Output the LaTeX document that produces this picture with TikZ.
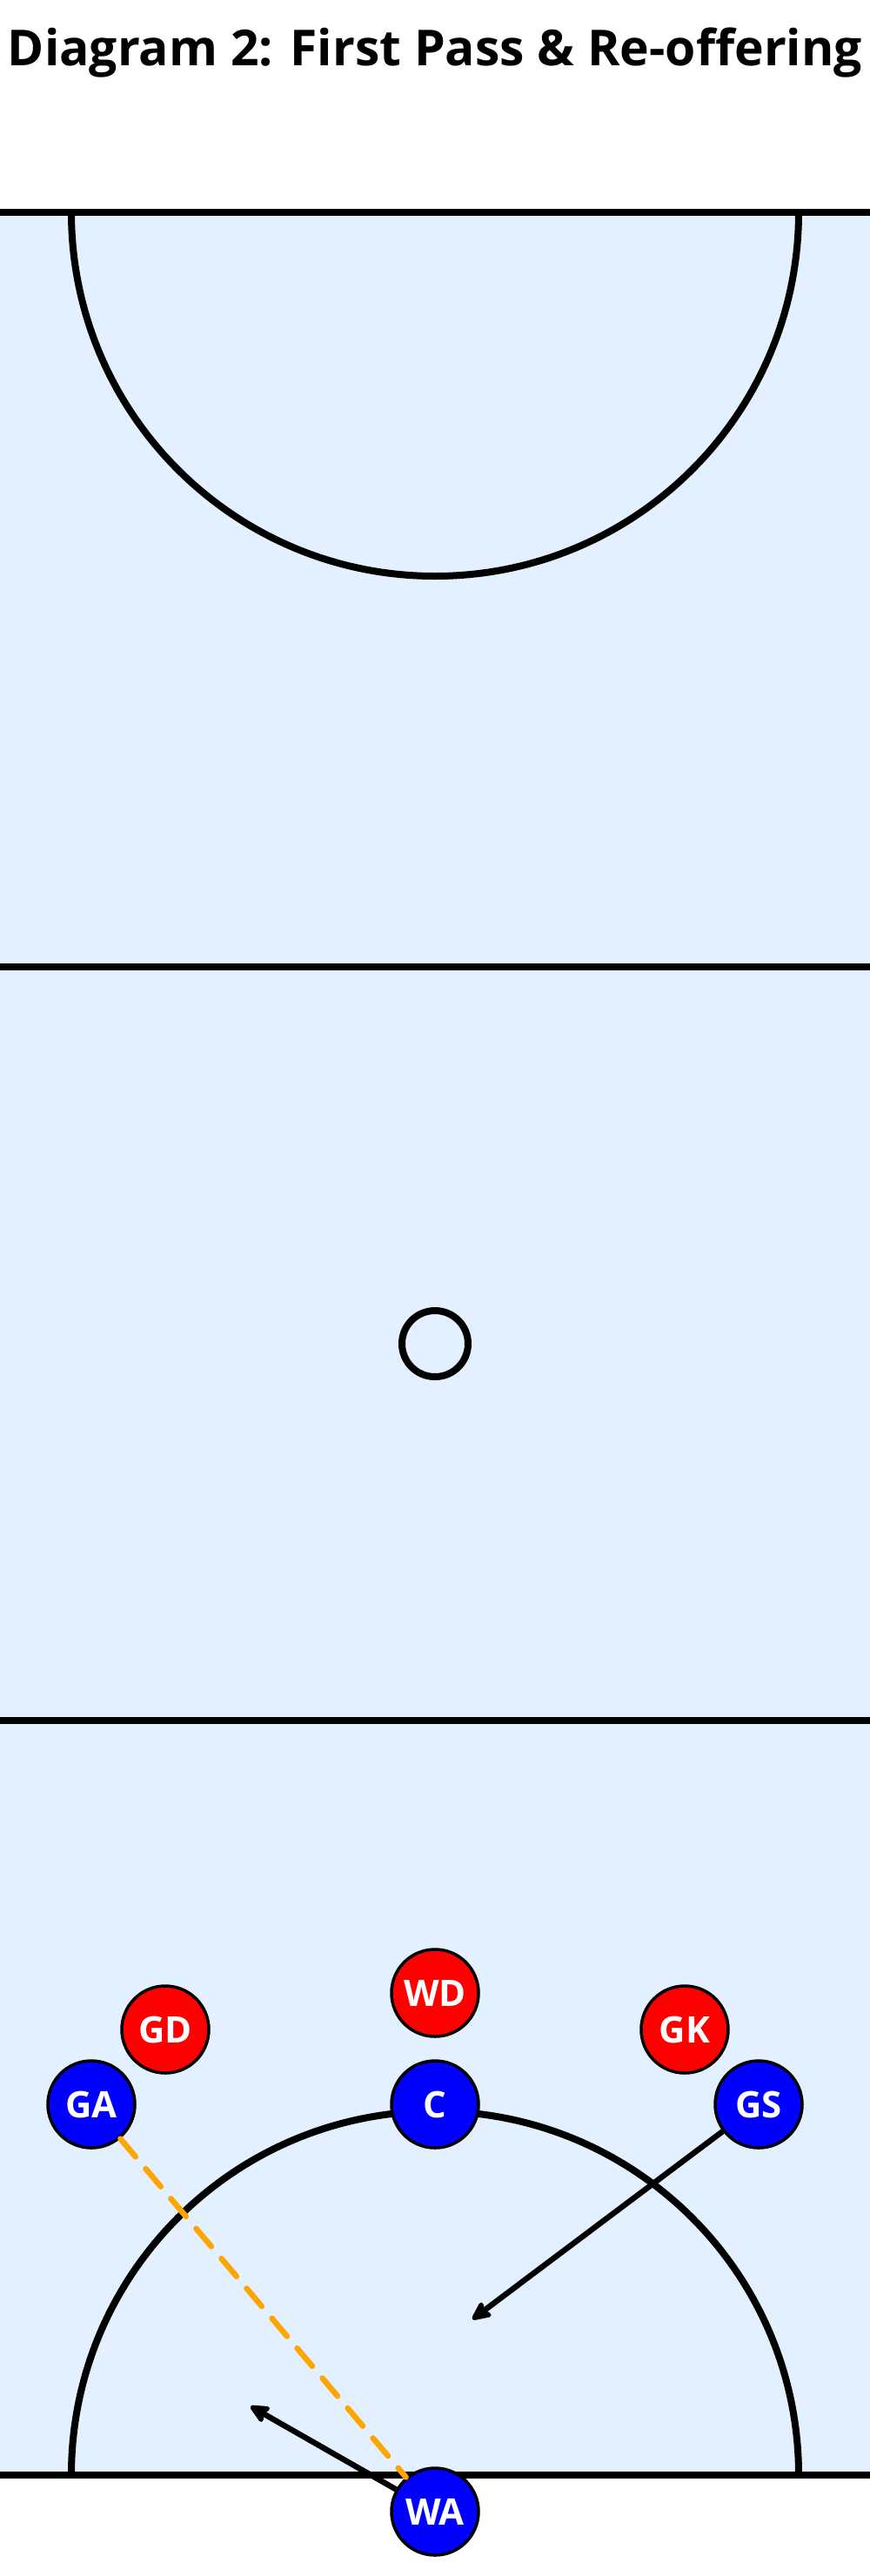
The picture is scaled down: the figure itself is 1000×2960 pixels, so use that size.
\documentclass[tikz,border=0pt]{standalone}
\usepackage{fontspec}
\setmainfont{Open Sans}
\usetikzlibrary{arrows.meta}
\definecolor{courtbg}{RGB}{227,240,255}
\definecolor{teamblue}{RGB}{0,0,255}
\definecolor{teamred}{RGB}{255,0,0}
\definecolor{passorange}{RGB}{255,165,0}
\begin{document}
\begin{tikzpicture}[x=1pt,y=-1pt,
  player/.style={circle, draw=black, line width=3.5pt, minimum size=100pt, inner sep=0pt, text=white, font=\fontsize{42}{50}\selectfont\bfseries},
  attack/.style={player, fill=teamblue},
  defend/.style={player, fill=teamred},
  courtline/.style={line width=8pt},
  move/.style={line width=6.5pt, -{Stealth[length=27pt,width=25pt,inset=6pt,round]}},
  pass/.style={passorange, line width=6.5pt, dash pattern=on 27pt off 18pt, line cap=round}]
\useasboundingbox (0,0) rectangle (1000,2960);
\fill[courtbg] (0,244) rectangle (1000,2844);
\node[font=\fontsize{57}{68}\selectfont\bfseries, anchor=base, inner sep=0pt] (title) at (500,75) {Diagram 2: First Pass \& Re-offering};
% court lines
\draw[courtline] (0,244) -- (1000,244);
\draw[courtline] (0,1110.7) -- (1000,1110.7);
\draw[courtline] (0,1977.3) -- (1000,1977.3);
\draw[courtline] (0,2844) -- (1000,2844);
% shooting circles
\draw[courtline] (918,244) arc[start angle=0, end angle=180, radius=418];
\draw[courtline] (82,2844) arc[start angle=180, end angle=360, radius=418];
% centre circle
\draw[courtline] (500,1544) circle[radius=38];
% players
\node[defend] (GD) at (190,2332) {GD};
\node[defend] (WD) at (500,2290) {WD};
\node[defend] (GK) at (787,2332) {GK};
\node[attack] (GA) at (105,2418) {GA};
\node[attack] (C) at (500,2418) {C};
\node[attack] (GS) at (872,2418) {GS};
\node[attack] (WA) at (500,2886) {WA};
% movements and pass
\coordinate (gsTo) at (543,2665);
\coordinate (waTo) at (288,2765);
\draw[pass] (GA) -- (WA);
\draw[move] (GS) -- (gsTo);
\draw[move] (WA) -- (waTo);
\end{tikzpicture}
\end{document}
